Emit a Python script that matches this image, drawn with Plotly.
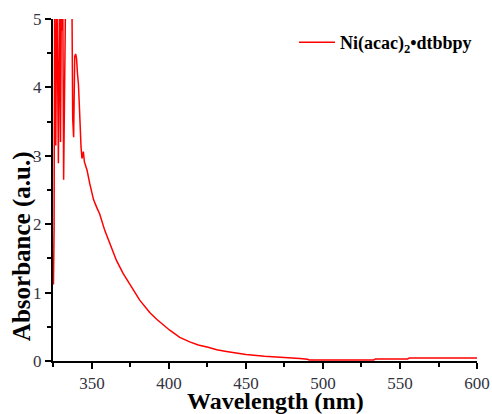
import plotly.graph_objects as go

# UV-Vis absorbance spectrum of Ni(acac)2•dtbbpy
wavelength_nm = [
    325.0, 325.4, 325.8, 326.5, 327.2, 328.2, 329.0, 329.6, 330.2, 330.6,
    331.0, 331.6, 332.2, 333.0, 336.9, 337.5, 338.1, 338.8, 339.4, 340.0,
    340.6, 341.2, 341.8, 342.3, 342.9, 343.5, 344.4, 345.1, 346.0, 346.8,
    348.5, 350.0, 351.0, 353.0, 355.0, 358.3, 361.5, 365.9, 370.2, 375.6,
    381.0, 387.5, 392.0, 400.5, 407.0, 413.5, 419.0, 425.4, 431.0, 437.3,
    450.0, 462.0, 475.0, 485.0, 490.0, 491.0, 533.0, 534.0, 555.0, 556.0,
    600.0,
]
absorbance = [
    1.12, 1.93, 5.60, 3.15, 5.60, 2.89, 5.60, 3.20, 5.60, 4.83,
    5.60, 2.65, 3.37, 5.60, 5.60, 3.54, 3.27, 4.45, 4.49, 4.42,
    4.20, 4.05, 3.74, 3.40, 3.13, 2.96, 3.06, 2.91, 2.85, 2.79,
    2.60, 2.45, 2.36, 2.25, 2.15, 1.91, 1.72, 1.47, 1.28, 1.08,
    0.89, 0.71, 0.61, 0.45, 0.345, 0.28, 0.235, 0.20, 0.165, 0.14,
    0.095, 0.07, 0.055, 0.035, 0.025, 0.015, 0.015, 0.03, 0.03, 0.045,
    0.045,
]

series_name = "Ni(acac)<sub>2</sub>•dtbbpy"
x_title = "Wavelength (nm)"
y_title = "Absorbance (a.u.)"
x_ticks = [350, 400, 450, 500, 550, 600]
y_ticks = [0, 1, 2, 3, 4, 5]

tick_font = dict(family="Liberation Serif", size=17, color="#333340")
x_title_font = dict(family="Liberation Serif", size=24, color="black", weight="bold")
y_title_font = dict(family="Liberation Serif", size=25, color="black", weight="bold")

fig = go.Figure()
fig.add_trace(go.Scatter(
    x=wavelength_nm, y=absorbance, mode="lines", name=series_name,
    line=dict(color="#ff0000", width=1.5),
))

axis_common = dict(
    showline=True, linecolor="black", linewidth=2, mirror=False,
    showgrid=False, zeroline=False, automargin=False,
    ticks="outside", ticklen=6, tickwidth=1.5, tickcolor="black",
    tickfont=tick_font,
)

fig.update_xaxes(
    range=[324.7, 600], tickvals=x_ticks, ticktext=[str(v) for v in x_ticks],
    minor=dict(ticks="outside", ticklen=4, tickwidth=1.5, tickcolor="black", dtick=25, tick0=350),
    **axis_common,
)
fig.update_yaxes(
    range=[0, 5], tickvals=y_ticks, ticktext=[str(v) for v in y_ticks],
    minor=dict(ticks="outside", ticklen=4, tickwidth=1.5, tickcolor="black", dtick=0.5, tick0=0),
    **axis_common,
)

fig.add_annotation(
    text=x_title, xref="paper", yref="paper", x=0.524, y=-0.118,
    xanchor="center", yanchor="middle", showarrow=False, font=x_title_font,
)
fig.add_annotation(
    text=y_title, xref="paper", yref="paper", x=-0.073, y=0.336,
    xanchor="center", yanchor="middle", showarrow=False, textangle=-90, font=y_title_font,
)

fig.update_layout(
    width=492, height=414,
    margin=dict(l=53, r=15, t=19, b=53),
    plot_bgcolor="white", paper_bgcolor="white",
    showlegend=True,
    legend=dict(
        x=1.0, y=0.985, xanchor="right", yanchor="top",
        bgcolor="rgba(0,0,0,0)", borderwidth=0, itemwidth=36,
        font=dict(family="Liberation Serif", size=18, color="black", weight="bold"),
    ),
)

fig.write_html("out.html")
